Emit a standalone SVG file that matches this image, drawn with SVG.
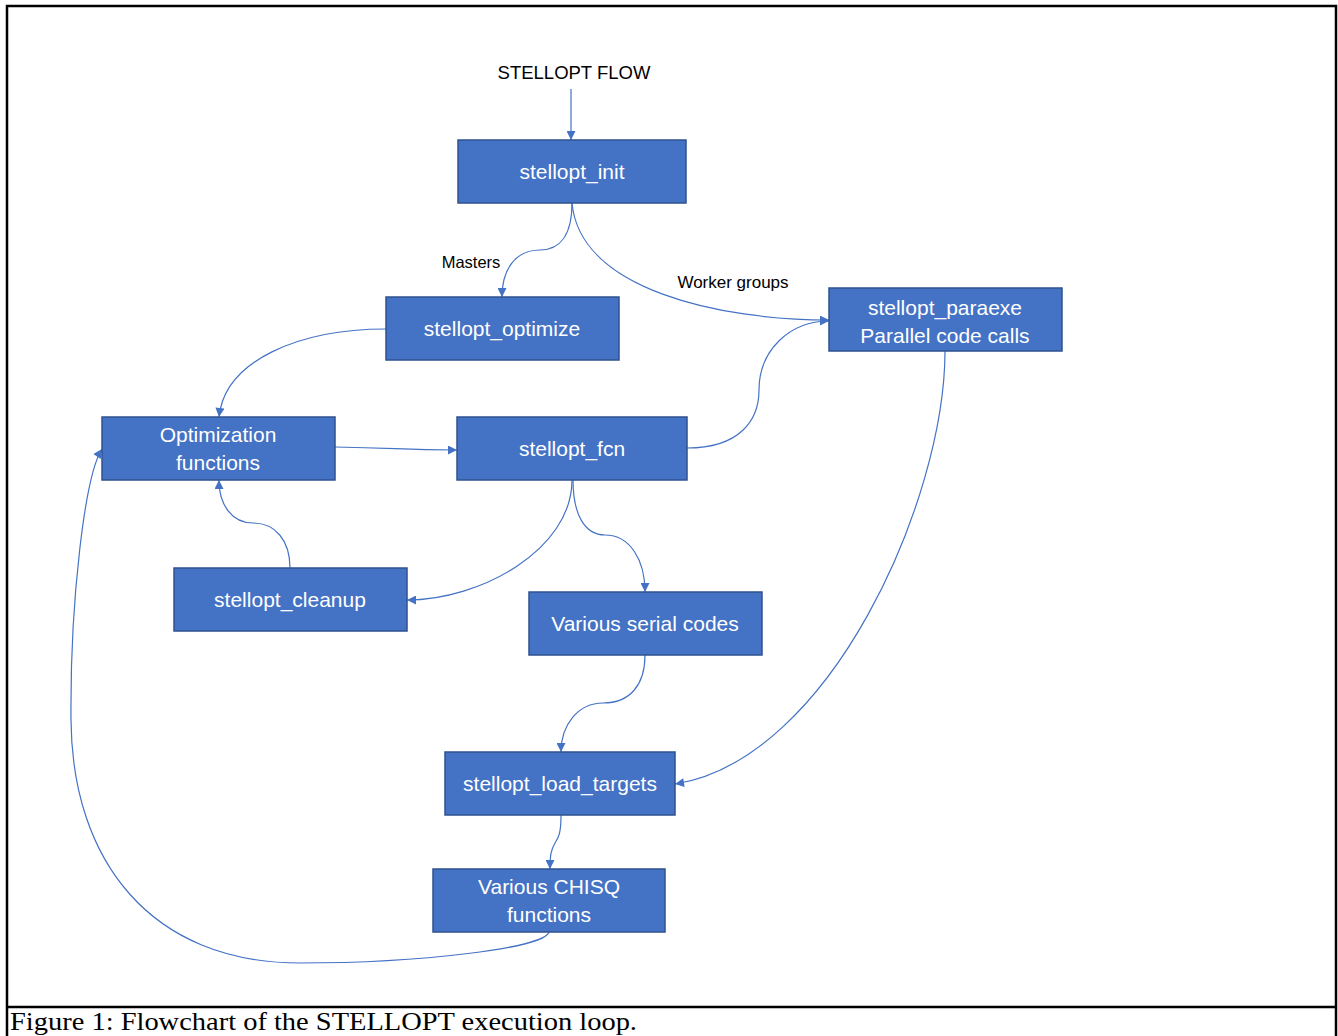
<svg xmlns="http://www.w3.org/2000/svg" width="1338" height="1036" viewBox="0 0 1338 1036">
<defs>
<style>
.box{fill:#4472C4;stroke:#2F528F;stroke-width:1.5}
.bt{fill:#fff;font-family:"Liberation Sans",Arial,sans-serif;font-size:21px;text-anchor:middle}
.lbl{fill:#000;font-family:"Liberation Sans",Arial,sans-serif;font-size:17px;text-anchor:middle}
.edge{fill:none;stroke:#4472C4;stroke-width:1.2;marker-end:url(#ah)}
</style>
<marker id="ah" viewBox="0 0 10 10" refX="10" refY="5" markerWidth="11" markerHeight="9" markerUnits="userSpaceOnUse" orient="auto">
<path d="M0,0 L10,5 L0,10 z" fill="#4472C4"/>
</marker>
</defs>
<rect x="0" y="0" width="1338" height="1036" fill="#fff"/>
<rect x="7" y="6" width="1329" height="1045" fill="none" stroke="#000" stroke-width="2.5"/>
<line x1="7" y1="1007" x2="1336" y2="1007" stroke="#000" stroke-width="2.5"/>
<text x="10" y="1030" font-family="'Liberation Serif','Times New Roman',serif" font-size="26" textLength="627" lengthAdjust="spacingAndGlyphs" fill="#000">Figure 1: Flowchart of the STELLOPT execution loop.</text>

<g id="title"><text x="574" y="79" class="lbl" style="font-size:18.5px">STELLOPT FLOW</text></g>

<g id="connectors">
<path class="edge" d="M571,89 L571,140"/>
<path class="edge" d="M572,203 C572,235 560,250 540,250 C515,250 502,270 502,297"/>
<path class="edge" d="M572,203 C580,290 720,320 829,320"/>
<path class="edge" d="M386,329 C300,329 225,360 219,417"/>
<path class="edge" d="M335,447 C400,448 400,450 457,450"/>
<path class="edge" d="M687,448 C740,448 759,420 759,390 C759,350 790,321 829,321"/>
<path class="edge" d="M572,480 C572,550 480,600 407,600"/>
<path class="edge" d="M573,480 C573,515 585,535 605,535 C630,535 645,560 645,592"/>
<path class="edge" d="M290,568 C290,540 275,523 253,523 C232,523 219,505 219,480"/>
<path class="edge" d="M645,655 C645,685 630,703 603,703 C578,703 561,725 561,752"/>
<path class="edge" d="M945,351 C945,500 830,760 675,784"/>
<path class="edge" d="M561,815 C561,835 558,838 555,843 C551,850 550,855 550,869"/>
<path class="edge" d="M549,932 C545,948 420,963 300,963 C150,963 72,860 71,720 C70,600 85,475 102,449"/>
<text x="471" y="268" class="lbl" style="font-size:16.5px">Masters</text>
<text x="733" y="288" class="lbl">Worker groups</text>
</g>

<g id="n-init"><rect class="box" x="458" y="140" width="228" height="63"/><text class="bt" x="572" y="179">stellopt_init</text></g>
<g id="n-optimize"><rect class="box" x="386" y="297" width="233" height="63"/><text class="bt" x="502" y="336">stellopt_optimize</text></g>
<g id="n-paraexe"><rect class="box" x="829" y="288" width="233" height="63"/><text class="bt" x="945" y="315">stellopt_paraexe</text><text class="bt" x="945" y="343">Parallel code calls</text></g>
<g id="n-optfunc"><rect class="box" x="102" y="417" width="233" height="63"/><text class="bt" x="218" y="442">Optimization</text><text class="bt" x="218" y="470">functions</text></g>
<g id="n-fcn"><rect class="box" x="457" y="417" width="230" height="63"/><text class="bt" x="572" y="456">stellopt_fcn</text></g>
<g id="n-cleanup"><rect class="box" x="174" y="568" width="233" height="63"/><text class="bt" x="290" y="607">stellopt_cleanup</text></g>
<g id="n-serial"><rect class="box" x="529" y="592" width="233" height="63"/><text class="bt" x="645" y="631">Various serial codes</text></g>
<g id="n-load"><rect class="box" x="445" y="752" width="230" height="63"/><text class="bt" x="560" y="791">stellopt_load_targets</text></g>
<g id="n-chisq"><rect class="box" x="433" y="869" width="232" height="63"/><text class="bt" x="549" y="894">Various CHISQ</text><text class="bt" x="549" y="922">functions</text></g>
</svg>
